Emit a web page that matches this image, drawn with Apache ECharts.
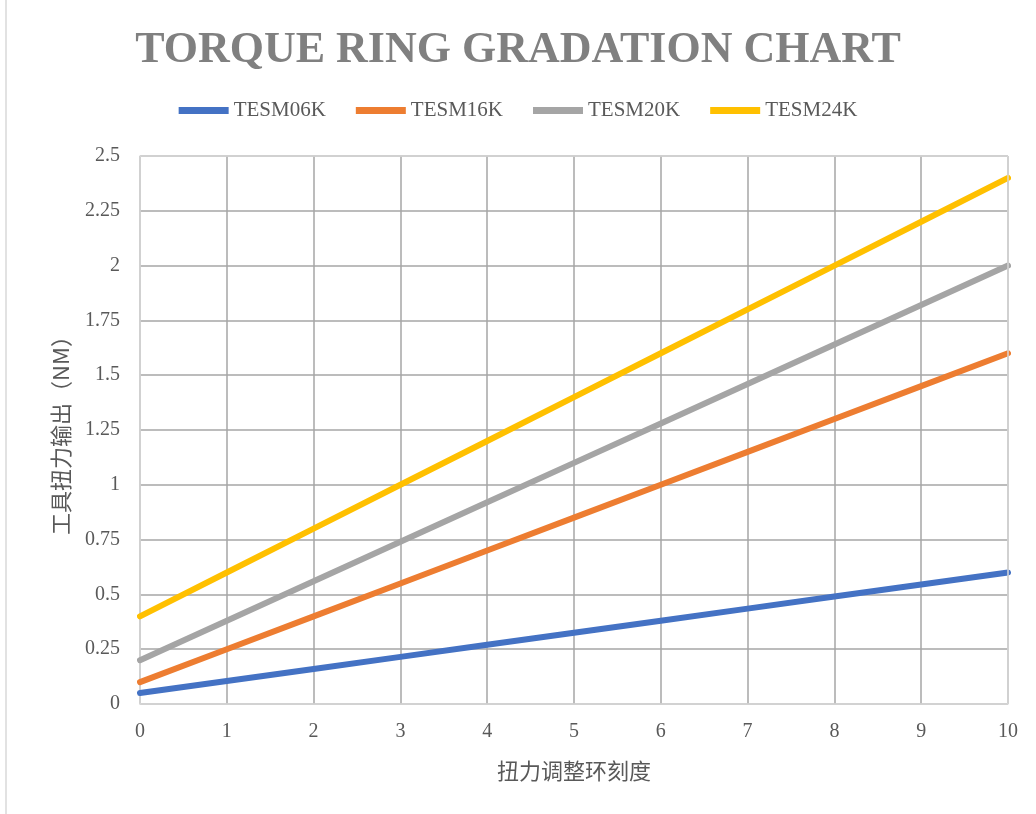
<!DOCTYPE html>
<html><head><meta charset="utf-8">
<script src="https://cdn.jsdelivr.net/npm/echarts@6/dist/echarts.min.js"></script>
<style>html,body{margin:0;padding:0;background:#fff}#c{width:1036px;height:814px}</style>
</head><body><div id="c"></div>
<script>
const xValues = [0,1,2,3,4,5,6,7,8,9,10];
const seriesNames = ['TESM06K','TESM16K','TESM20K','TESM24K'];
const tesm06k = [0.05,0.105,0.16,0.215,0.27,0.325,0.38,0.435,0.49,0.545,0.6];
const tesm16k = [0.1,0.25,0.4,0.55,0.7,0.85,1.0,1.15,1.3,1.45,1.6];
const tesm20k = [0.2,0.38,0.56,0.74,0.92,1.1,1.28,1.46,1.64,1.82,2.0];
const tesm24k = [0.4,0.6,0.8,1.0,1.2,1.4,1.6,1.8,2.0,2.2,2.4];
const colors = ['#4472C4','#ED7D31','#A5A5A5','#FFC000'];
const allData = [tesm06k,tesm16k,tesm20k,tesm24k];

const chart = echarts.init(document.getElementById('c'), null, {renderer:'canvas'});
const serif = '"Liberation Serif","Times New Roman",serif';
chart.setOption({
  backgroundColor:'#fff',
  animation:false,
  color: colors,
  title:{
    text:'TORQUE RING GRADATION CHART',
    left:'center', top:24,
    textStyle:{fontFamily:serif,fontWeight:'bold',fontSize:44,color:'#808080'}
  },
  legend:{
    top:95, left:'center', itemWidth:50, itemHeight:7, itemGap:30,
    icon:'rect',
    textStyle:{fontFamily:serif,fontSize:21,color:'#595959'},
    data: seriesNames
  },
  grid:{left:140, right:28, top:156, bottom:110},
  xAxis:{
    type:'value', min:0, max:10, interval:1,
    name:'扭力调整环刻度', nameLocation:'middle', nameGap:56,
    nameTextStyle:{fontFamily:'"Noto Sans CJK SC",sans-serif',fontSize:22,color:'#595959'},
    axisLine:{show:true,lineStyle:{color:'#D9D9D9',width:1.5}},
    axisTick:{show:false},
    axisLabel:{fontFamily:serif,fontSize:20,color:'#595959',margin:18},
    splitLine:{show:true,lineStyle:{color:'#A6A6A6',width:1.5}}
  },
  yAxis:{
    type:'value', min:0, max:2.5, interval:0.25,
    name:'工具扭力输出（NM）', nameLocation:'middle', nameGap:68, nameRotate:90,
    nameTextStyle:{fontFamily:'"Noto Sans CJK SC",sans-serif',fontSize:22,color:'#595959'},
    axisLine:{show:true,lineStyle:{color:'#D9D9D9',width:1.5}},
    axisTick:{show:false},
    axisLabel:{fontFamily:serif,fontSize:20,color:'#595959',margin:20},
    splitLine:{show:true,lineStyle:{color:'#A6A6A6',width:1.5}}
  },
  graphic:[
    {type:'line',shape:{x1:6,y1:0,x2:6,y2:814},style:{stroke:'#D9D9D9',lineWidth:1.5},silent:true}
  ],
  series: seriesNames.map((n,i)=>({
    name:n, type:'line', showSymbol:false, symbol:'none',
    data: xValues.map((x,j)=>[x,allData[i][j]]),
    lineStyle:{width:6,color:colors[i],cap:'round'}
  })).concat([{
    type:'line', data:[], markLine:{silent:true,symbol:'none',label:{show:false},
      lineStyle:{color:'#D9D9D9',width:1.5,type:'solid'},
      data:[{xAxis:10},{yAxis:2.5}]}
  }])
});
</script></body></html>
